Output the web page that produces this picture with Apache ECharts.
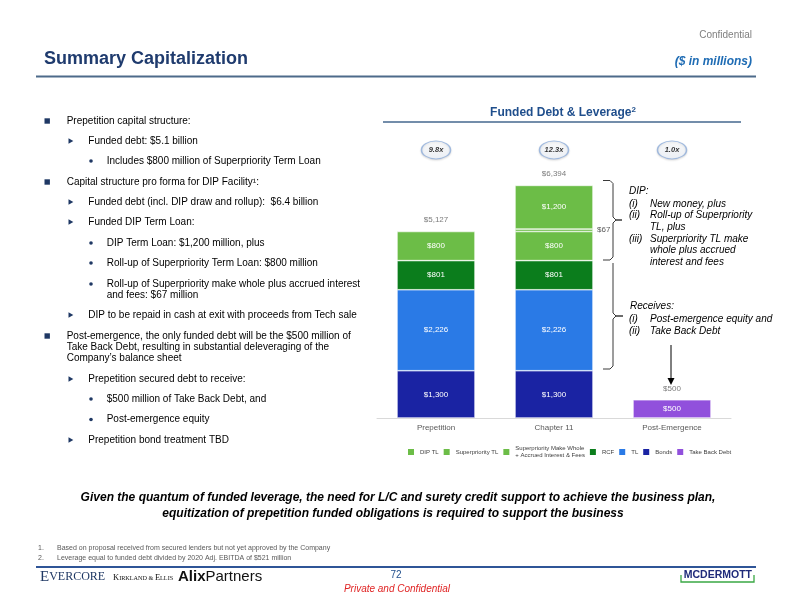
<!DOCTYPE html>
<html>
<head>
<meta charset="utf-8">
<script src="https://cdn.jsdelivr.net/npm/echarts@6/dist/echarts.min.js"></script>
<style>
html,body{margin:0;padding:0;background:#fff;}
#chart{width:792px;height:612px;}
</style>
</head>
<body>
<div id="chart"></div>
<script>
// ---------- data ----------
const categories = ['Prepetition', 'Chapter 11', 'Post-Emergence'];
const bonds = [1300, 1300, null];
const termLoan = [2226, 2226, null];
const rcf = [801, 801, null];
const superpriorityTL = [800, 800, null];
const makeWhole = [null, 67, null];
const dipTL = [null, 1200, null];
const takeBackDebt = [null, null, 500];
const totals = [5127, 6394, 500];
const leverage = ['9.8x', '12.3x', '1.0x'];

const legendNames = ['DIP TL', 'Superpriority TL', 'Superpriority Make Whole\n+ Accrued Interest & Fees', 'RCF', 'TL', 'Bonds', 'Take Back Debt'];

const bulletLines = [
  [1, 'Prepetition capital structure:'],
  [2, 'Funded debt: $5.1 billion'],
  [3, 'Includes $800 million of Superpriority Term Loan'],
  [1, 'Capital structure pro forma for DIP Facility\u00b9:'],
  [2, 'Funded debt (incl. DIP draw and rollup):  $6.4 billion'],
  [2, 'Funded DIP Term Loan:'],
  [3, 'DIP Term Loan: $1,200 million, plus'],
  [3, 'Roll-up of Superpriority Term Loan: $800 million'],
  [3, 'Roll-up of Superpriority make whole plus accrued interest\nand fees: $67 million'],
  [2, 'DIP to be repaid in cash at exit with proceeds from Tech sale'],
  [1, 'Post-emergence, the only funded debt will be the $500 million of\nTake Back Debt, resulting in substantial deleveraging of the\nCompany\u2019s balance sheet'],
  [2, 'Prepetition secured debt to receive:'],
  [3, '$500 million of Take Back Debt, and'],
  [3, 'Post-emergence equity'],
  [2, 'Prepetition bond treatment TBD']
];
const bulletY = [121, 141, 161, 182, 202, 222, 243, 263, 284, 315, 336, 379, 399, 419.5, 440];

const dipNotes = [['', 'DIP:'], ['(i)', 'New money, plus'], ['(ii)', 'Roll-up of Superpriority'], ['', 'TL, plus'], ['(iii)', 'Superpriority TL make'], ['', 'whole plus accrued'], ['', 'interest and fees']];
const dipNotesY = [191, 204, 215.7, 227.2, 238.8, 250.4, 262];
const recNotes = [['', 'Receives:'], ['(i)', 'Post-emergence equity and'], ['(ii)', 'Take Back Debt']];
const recNotesY = [306.5, 319, 331.5];

// ---------- styling ----------
const FONT = "'Liberation Sans', Arial, sans-serif";
const C = {
  light: '#6cbd47', dark: '#0b7d1c', tl: '#2a7ae6', bonds: '#1a23a3', tbd: '#9150dc',
  navy: '#1f3864'
};
const fmt = v => '$' + Number(v).toLocaleString('en-US');

const chart = echarts.init(document.getElementById('chart'), null, {renderer: 'canvas'});

function barSeries(name, data, color, extraLabel) {
  return {
    name: name, type: 'bar', stack: 'debt', data: data, barWidth: 78,
    itemStyle: {color: color, borderColor: '#fff', borderWidth: 0.6},
    label: Object.assign({show: true, position: 'inside', color: '#fff', fontSize: 8, fontFamily: FONT,
      formatter: p => p.value == null ? '' : fmt(p.value)}, extraLabel || {}),
    emphasis: {disabled: true}
  };
}

// graphics
const g = [];
function txt(x, y, text, font, fill, align, extra) {
  g.push(Object.assign({type: 'text', x: x, y: y, silent: true,
    style: {text: text, font: font, fill: fill || '#000', align: align || 'left', verticalAlign: 'middle'}}, extra || {}));
}
// header
txt(752, 35, 'Confidential', "10px " + FONT, '#7f7f7f', 'right');
txt(44, 59, 'Summary Capitalization', "bold 18px " + FONT, '#1f3b6e', 'left');
txt(752, 62, '($ in millions)', "italic bold 12px " + FONT, '#1f6cb4', 'right');
g.push({type: 'line', silent: true, shape: {x1: 36, y1: 76.5, x2: 756, y2: 76.5}, style: {stroke: '#4d6a8a', lineWidth: 2.2}});

// chart title
g.push({type: 'text', x: 563, y: 113, silent: true, style: {
  text: '{t|Funded Debt & Leverage}{s|2}', align: 'center', verticalAlign: 'middle',
  rich: {t: {fill: '#1f4e8c', fontSize: 12, fontWeight: 'bold', fontFamily: FONT},
         s: {fontSize: 8, fontWeight: 'bold', fontFamily: FONT, fill: '#1f4e8c', verticalAlign: 'top', padding: [0, 0, 6, 0]}}}});
g.push({type: 'line', silent: true, shape: {x1: 383, y1: 122, x2: 741, y2: 122}, style: {stroke: '#44678e', lineWidth: 1.3}});

// left bullets
const textX = {1: 66.7, 2: 88.3, 3: 106.7};
bulletLines.forEach((b, i) => {
  const y = bulletY[i];
  const lvl = b[0];
  if (lvl === 1) {
    g.push({type: 'rect', silent: true, shape: {x: 44.5, y: y - 2.7, width: 5.4, height: 5.4}, style: {fill: C.navy}});
  } else if (lvl === 2) {
    g.push({type: 'polygon', silent: true, shape: {points: [[68.5, y - 2.8], [68.5, y + 2.8], [73.3, y]]}, style: {fill: C.navy}});
  } else {
    g.push({type: 'circle', silent: true, shape: {cx: 91, cy: y, r: 1.8}, style: {fill: C.navy}});
  }
  g.push({type: 'text', silent: true, x: textX[lvl], y: y - 5.8,
    style: {text: b[1], font: "10px " + FONT, fill: '#000', verticalAlign: 'top', lineHeight: 11.3}});
});

// right annotations
dipNotes.forEach((n, i) => {
  const y = dipNotesY[i];
  if (i === 0) txt(629, y, n[1], "italic 10px " + FONT, '#000');
  else { if (n[0]) txt(629, y, n[0], "italic 10px " + FONT, '#000'); txt(650, y, n[1], "italic 10px " + FONT, '#000'); }
});
recNotes.forEach((n, i) => {
  const y = recNotesY[i];
  if (i === 0) txt(630, y, n[1], "italic 10px " + FONT, '#000');
  else { txt(629, y, n[0], "italic 10px " + FONT, '#000'); txt(650, y, n[1], "italic 10px " + FONT, '#000'); }
});
// brackets
const br = {stroke: '#3a3a3a', lineWidth: 1};
g.push({type: 'polyline', silent: true, shape: {points: [[603, 180.5], [610, 180.5], [613, 183.5], [613, 217], [616, 220], [622, 220]]}, style: br});
g.push({type: 'polyline', silent: true, shape: {points: [[622, 220], [616, 220], [613, 223], [613, 257], [610, 260], [603, 260]]}, style: br});
g.push({type: 'polyline', silent: true, shape: {points: [[613, 263], [613, 313], [616, 316], [623, 316]]}, style: br});
g.push({type: 'polyline', silent: true, shape: {points: [[623, 316], [616, 316], [613, 319], [613, 366], [610, 369], [603, 369]]}, style: br});
// arrow
g.push({type: 'line', silent: true, shape: {x1: 671, y1: 345, x2: 671, y2: 380}, style: {stroke: '#000', lineWidth: 1}});
g.push({type: 'polygon', silent: true, shape: {points: [[667.5, 378], [674.5, 378], [671, 385]]}, style: {fill: '#000'}});

// bottom statement
txt(398, 497.5, 'Given the quantum of funded leverage, the need for L/C and surety credit support to achieve the business plan,', "italic bold 12px " + FONT, '#000', 'center');
txt(393, 514, 'equitization of prepetition funded obligations is required to support the business', "italic bold 12px " + FONT, '#000', 'center');
// footnotes
txt(38, 548, '1.', "7px " + FONT, '#595959');
txt(57, 548, 'Based on proposal received from secured lenders but not yet approved by the Company', "7px " + FONT, '#595959');
txt(38, 558.5, '2.', "7px " + FONT, '#595959');
txt(57, 558.5, 'Leverage equal to funded debt divided by 2020 Adj. EBITDA of $521 million', "7px " + FONT, '#595959');
g.push({type: 'line', silent: true, shape: {x1: 36, y1: 567, x2: 756, y2: 567}, style: {stroke: '#2f5597', lineWidth: 1.8}});
// footer logos
g.push({type: 'text', x: 40, y: 577, silent: true, style: {text: '{a|E}{b|VERCORE}', verticalAlign: 'middle',
  rich: {a: {fontSize: 15, fontFamily: "'Liberation Serif', serif", fill: '#1f3864'}, b: {fontSize: 12, fontFamily: "'Liberation Serif', serif", fill: '#1f3864'}}}});
g.push({type: 'text', x: 113, y: 578, silent: true, style: {text: '{a|K}{b|IRKLAND & }{a|E}{b|LLIS}', verticalAlign: 'middle',
  rich: {a: {fontSize: 8.5, fontFamily: "'Liberation Serif', serif", fill: '#111'}, b: {fontSize: 6.2, fontFamily: "'Liberation Serif', serif", fill: '#111'}}}});
g.push({type: 'text', x: 178, y: 577, silent: true, style: {text: '{a|Alix}{b|Partners}', verticalAlign: 'middle',
  rich: {a: {fontSize: 15, fontWeight: 'bold', fontFamily: FONT, fill: '#111'}, b: {fontSize: 15, fontFamily: FONT, fill: '#111'}}}});
txt(396, 575, '72', "10px " + FONT, '#1f4e8c', 'center');
txt(752, 575, 'MCDERMOTT', "bold 10.5px " + FONT, '#1f2a7a', 'right');
g.push({type: 'polyline', silent: true, shape: {points: [[681, 575], [681, 582], [754, 582], [754, 575]]}, style: {stroke: '#3aa844', lineWidth: 1.3}});
txt(397, 589, 'Private and Confidential', "italic 10px " + FONT, '#e02424', 'center');

const option = {
  animation: false,
  backgroundColor: '#fff',
  textStyle: {fontFamily: FONT},
  grid: {left: 377, right: 61, top: 127, bottom: 194, containLabel: false},
  legend: {
    data: legendNames, left: 401, top: 440, itemWidth: 8, itemHeight: 8, itemGap: 3,
    icon: 'rect', selectedMode: false,
    textStyle: {fontSize: 6, color: '#404040', fontFamily: FONT, lineHeight: 7}
  },
  xAxis: {
    type: 'category', data: categories,
    axisLine: {lineStyle: {color: '#d9d9d9', width: 1}},
    axisTick: {show: false},
    axisLabel: {color: '#595959', fontSize: 8, margin: 6, fontFamily: FONT}
  },
  yAxis: {type: 'value', min: 0, max: 8000, show: false, splitLine: {show: false}},
  series: [
    barSeries('Bonds', bonds, C.bonds),
    barSeries('TL', termLoan, C.tl),
    barSeries('RCF', rcf, C.dark),
    barSeries('Superpriority TL', superpriorityTL, C.light),
    barSeries('Superpriority Make Whole\n+ Accrued Interest & Fees', makeWhole, C.light, {position: 'right', color: '#595959', distance: 4}),
    barSeries('DIP TL', dipTL, C.light),
    barSeries('Take Back Debt', takeBackDebt, C.tbd),
    {
      name: 'totals', type: 'scatter', data: totals, symbolSize: 1,
      itemStyle: {color: 'rgba(0,0,0,0)'}, z: 5,
      label: {show: true, position: 'top', distance: 7, color: '#595959', fontSize: 8, fontFamily: FONT, formatter: p => fmt(p.value)},
      emphasis: {disabled: true}
    },
    {
      name: 'leverage', type: 'scatter', data: categories.map(() => 7370),
      symbol: 'path://M0,50 A50,50 0 1,1 100,50 A50,50 0 1,1 0,50 Z',
      symbolSize: [29, 18], z: 5,
      itemStyle: {
        color: new echarts.graphic.LinearGradient(0, 0, 0, 1, [{offset: 0, color: '#ffffff'}, {offset: 1, color: '#eef3fa'}]),
        borderColor: '#8eaedb', borderWidth: 1.2,
        shadowColor: 'rgba(0,0,0,0.15)', shadowBlur: 2, shadowOffsetY: 1
      },
      label: {show: true, position: 'inside', color: '#000', fontSize: 7.5, fontWeight: 'bold', fontStyle: 'italic', fontFamily: FONT,
        formatter: p => leverage[p.dataIndex]},
      emphasis: {disabled: true}
    }
  ],
  graphic: g
};
chart.setOption(option);
</script>
</body>
</html>
